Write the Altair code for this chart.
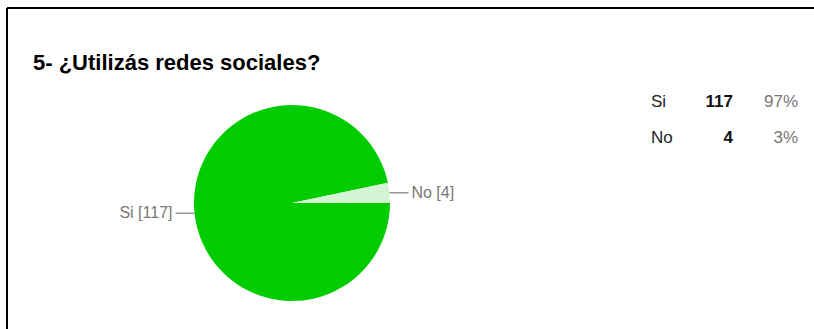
import math
import altair as alt
import pandas as pd

# ---- data ----
labels = ["Si", "No"]
counts = [117, 4]
percents = ["97%", "3%"]
colors = ["#00cc00", "#d4f5d4"]

title_text = "5- ¿Utilizás redes sociales?"

df = pd.DataFrame({
    "label": labels,
    "count": counts,
    "pct": percents,
    "idx": list(range(len(labels))),
})

CX, CY, R = 292, 203, 98
TWO_PI = 2 * math.pi
START = math.pi / 2 - TWO_PI
END = math.pi / 2

base = alt.Chart(df)

pie = base.mark_arc(radius=R, stroke=None).encode(
    theta=alt.Theta("count:Q", stack=True, scale=alt.Scale(range=[START, END])),
    order=alt.Order("idx:Q"),
    color=alt.Color("label:N", scale=alt.Scale(domain=labels, range=colors), legend=None),
    x=alt.value(CX),
    y=alt.value(CY),
)

# label geometry computed from the data
geo = base.transform_window(
    cum="sum(count)", sort=[alt.SortField("idx")], frame=[None, 0]
).transform_joinaggregate(
    total="sum(count)"
).transform_calculate(
    ang=f"{START} + {TWO_PI} * (datum.cum - datum.count / 2) / datum.total",
).transform_calculate(
    side="sin(datum.ang) >= 0 ? 1 : -1",
    px=f"{CX} + {R} * sin(datum.ang)",
    py=f"{CY} - {R} * cos(datum.ang)",
).transform_calculate(
    px2="datum.px + datum.side * 19",
    tx="datum.px + datum.side * 22",
    txt="datum.label + ' [' + datum.count + ']'",
)

leaders = geo.mark_rule(color="#666666", strokeWidth=1).encode(
    x=alt.X("px:Q", scale=None),
    x2="px2:Q",
    y=alt.Y("py:Q", scale=None),
)

lab_right = geo.transform_filter("datum.side > 0").mark_text(
    align="left", baseline="middle", font="Liberation Sans", fontSize=16, color="#777777"
).encode(x=alt.X("tx:Q", scale=None), y=alt.Y("py:Q", scale=None), text="txt:N")

lab_left = geo.transform_filter("datum.side < 0").mark_text(
    align="right", baseline="middle", font="Liberation Sans", fontSize=16, color="#777777"
).encode(x=alt.X("tx:Q", scale=None), y=alt.Y("py:Q", scale=None), text="txt:N")

# summary table on the right
tbl = base.transform_calculate(ry="102 + 36 * datum.idx")

t_label = tbl.mark_text(
    align="left", baseline="middle", font="Liberation Sans", fontSize=17, color="#222222"
).encode(x=alt.value(651), y=alt.Y("ry:Q", scale=None), text="label:N")

t_count = tbl.mark_text(
    align="right", baseline="middle", font="Liberation Sans", fontSize=17,
    fontWeight="bold", color="#111111"
).encode(x=alt.value(733), y=alt.Y("ry:Q", scale=None), text="count:Q")

t_pct = tbl.mark_text(
    align="right", baseline="middle", font="Liberation Sans", fontSize=17, color="#777777"
).encode(x=alt.value(798), y=alt.Y("ry:Q", scale=None), text="pct:N")

title = base.transform_filter("datum.idx == 0").mark_text(
    align="left", baseline="alphabetic", font="Liberation Sans", fontSize=22,
    fontWeight="bold", color="#000000", text=title_text
).encode(x=alt.value(33), y=alt.value(70))

border_top = base.transform_filter("datum.idx == 0").mark_rule(
    color="#000000", strokeWidth=2
).encode(x=alt.value(7), x2=alt.value(814), y=alt.value(8))

border_left = base.transform_filter("datum.idx == 0").mark_rule(
    color="#000000", strokeWidth=2
).encode(x=alt.value(7), y=alt.value(8), y2=alt.value(329))

chart = alt.layer(
    pie, leaders, lab_right, lab_left, t_label, t_count, t_pct, title, border_top, border_left
).properties(
    width=814, height=329, padding=0, autosize=alt.AutoSizeParams(type="none"),
    background="white",
).configure_view(stroke=None)

chart.save("out.html", embed_options={"renderer": "svg", "actions": False})
